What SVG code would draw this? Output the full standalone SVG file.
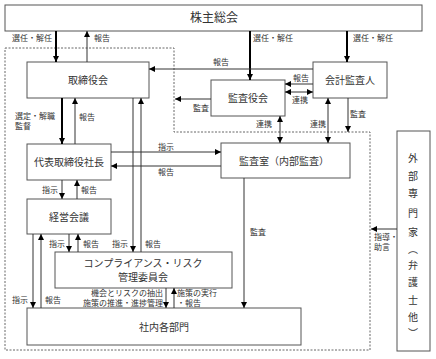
<svg xmlns="http://www.w3.org/2000/svg" width="436" height="359" viewBox="0 0 436 359">
<style>
.box{fill:#fff;stroke:#555;stroke-width:1}
.t{font-family:"Noto Sans CJK JP","Noto Sans",sans-serif;fill:#333}
.bt{font-size:10px;text-anchor:middle}
.lb{font-size:8px}
.ln{stroke:#333;stroke-width:1;fill:none}
.th{stroke:#000;stroke-width:2;fill:none}
.dash{fill:none;stroke:#666;stroke-width:1;stroke-dasharray:2,1.5}
</style>
<defs>
<marker id="a" viewBox="0 0 6 6" refX="6" refY="3" markerWidth="6" markerHeight="6" markerUnits="userSpaceOnUse" orient="auto-start-reverse">
<path d="M0,0 L6,3 L0,6 z" fill="#000"/>
</marker>
</defs>
<rect width="436" height="359" fill="#fff"/>
<path class="dash" d="M5,48 H174 V132 H370 V350 H5 Z"/>

<g id="kabunushi"><rect class="box" x="5" y="5" width="417" height="26"/><text class="t" x="214" y="22" font-size="12" text-anchor="middle">株主総会</text></g>
<g id="torishimariyakukai"><rect class="box" x="27" y="62" width="122" height="36"/><text class="t bt" x="88" y="84">取締役会</text></g>
<g id="kansayakukai"><rect class="box" x="211" y="80" width="74" height="36"/><text class="t bt" x="248" y="102">監査役会</text></g>
<g id="kaikeikansanin"><rect class="box" x="313" y="62" width="74" height="36"/><text class="t bt" x="350" y="84">会計監査人</text></g>
<g id="shacho"><rect class="box" x="27" y="144" width="84" height="36"/><text class="t bt" x="69" y="166">代表取締役社長</text></g>
<g id="kansashitsu"><rect class="box" x="221" y="143" width="129" height="35"/><text class="t bt" x="284" y="165">監査室（内部監査）</text></g>
<g id="keieikaigi"><rect class="box" x="27" y="199" width="84" height="35"/><text class="t bt" x="69" y="221">経営会議</text></g>
<g id="compliance"><rect class="box" x="55" y="252" width="177" height="36"/><text class="t bt" x="143" y="267">コンプライアンス・リスク</text><text class="t bt" x="143" y="281">管理委員会</text></g>
<g id="shanai"><rect class="box" x="27" y="308" width="274" height="37"/><text class="t bt" x="164" y="331">社内各部門</text></g>
<g id="gaibu"><rect class="box" x="397" y="131" width="33" height="220"/>
<text class="t" font-size="10" text-anchor="middle"><tspan x="413" y="162">外</tspan><tspan x="413" y="180">部</tspan><tspan x="413" y="197">専</tspan><tspan x="413" y="217">門</tspan><tspan x="413" y="236">家</tspan><tspan x="413" y="253">︵</tspan><tspan x="413" y="269">弁</tspan><tspan x="413" y="286">護</tspan><tspan x="413" y="304">士</tspan><tspan x="413" y="321">他</tspan><tspan x="413" y="337">︶</tspan></text></g>

<g id="connectors">
<line class="th" x1="56" y1="31" x2="56" y2="62" marker-end="url(#a)"/>
<line class="ln" x1="87" y1="62" x2="87" y2="31" marker-end="url(#a)"/>
<line class="th" x1="250" y1="31" x2="250" y2="80" marker-end="url(#a)"/>
<line class="th" x1="347" y1="31" x2="347" y2="62" marker-end="url(#a)"/>
<line class="ln" x1="313" y1="69" x2="149" y2="69" marker-end="url(#a)"/>
<line class="ln" x1="313" y1="84" x2="285" y2="84" marker-end="url(#a)"/>
<line class="ln" x1="285" y1="92" x2="313" y2="92" marker-start="url(#a)" marker-end="url(#a)"/>
<line class="ln" x1="211" y1="99" x2="175" y2="99" marker-end="url(#a)"/>
<line class="ln" x1="280" y1="116" x2="280" y2="143" marker-start="url(#a)" marker-end="url(#a)"/>
<line class="ln" x1="328" y1="98" x2="328" y2="143" marker-start="url(#a)" marker-end="url(#a)"/>
<line class="ln" x1="348" y1="98" x2="348" y2="132" marker-end="url(#a)"/>
<line class="th" x1="62" y1="98" x2="62" y2="144" marker-end="url(#a)"/>
<line class="ln" x1="75" y1="144" x2="75" y2="98" marker-end="url(#a)"/>
<line class="ln" x1="133" y1="98" x2="133" y2="252" marker-end="url(#a)"/>
<line class="ln" x1="141" y1="252" x2="141" y2="98" marker-end="url(#a)"/>
<line class="ln" x1="111" y1="152" x2="221" y2="152" marker-end="url(#a)"/>
<line class="ln" x1="221" y1="166" x2="111" y2="166" marker-end="url(#a)"/>
<line class="ln" x1="62" y1="180" x2="62" y2="199" marker-end="url(#a)"/>
<line class="ln" x1="77" y1="199" x2="77" y2="180" marker-end="url(#a)"/>
<line class="ln" x1="33" y1="234" x2="33" y2="308" marker-end="url(#a)"/>
<line class="ln" x1="41" y1="308" x2="41" y2="234" marker-end="url(#a)"/>
<line class="ln" x1="69" y1="234" x2="69" y2="252" marker-end="url(#a)"/>
<line class="ln" x1="78" y1="252" x2="78" y2="234" marker-end="url(#a)"/>
<line class="ln" x1="166" y1="288" x2="166" y2="308" marker-end="url(#a)"/>
<line class="ln" x1="174" y1="308" x2="174" y2="288" marker-end="url(#a)"/>
<line class="ln" x1="244" y1="178" x2="244" y2="308" marker-end="url(#a)"/>
<line class="ln" x1="397" y1="229" x2="371" y2="229" marker-end="url(#a)"/>
</g>

<g id="labels" class="t lb">
<text x="12" y="41">選任・解任</text>
<text x="94" y="41">報告</text>
<text x="253" y="41">選任・解任</text>
<text x="353" y="41">選任・解任</text>
<text x="213" y="65">報告</text>
<text x="293" y="81">報告</text>
<text x="292" y="103">連携</text>
<text x="193" y="111">監査</text>
<text x="256" y="127">連携</text>
<text x="310" y="127">連携</text>
<text x="350" y="117">監査</text>
<text x="15" y="119">選定・解職</text>
<text x="15" y="129">監督</text>
<text x="79" y="120">報告</text>
<text x="158" y="150">指示</text>
<text x="158" y="175">報告</text>
<text x="42" y="193">指示</text>
<text x="81" y="193">報告</text>
<text x="49" y="247">指示</text>
<text x="83" y="247">報告</text>
<text x="112" y="247">指示</text>
<text x="145" y="247">報告</text>
<text x="163" y="296" text-anchor="end">機会とリスクの抽出</text>
<text x="163" y="306" text-anchor="end">施策の推進・進捗管理</text>
<text x="177" y="296">施策の実行</text>
<text x="177" y="306">・報告</text>
<text x="12" y="303">指示</text>
<text x="45" y="303">報告</text>
<text x="250" y="235">監査</text>
<text x="374" y="240">指導・</text>
<text x="374" y="250">助言</text>
</g>
</svg>
